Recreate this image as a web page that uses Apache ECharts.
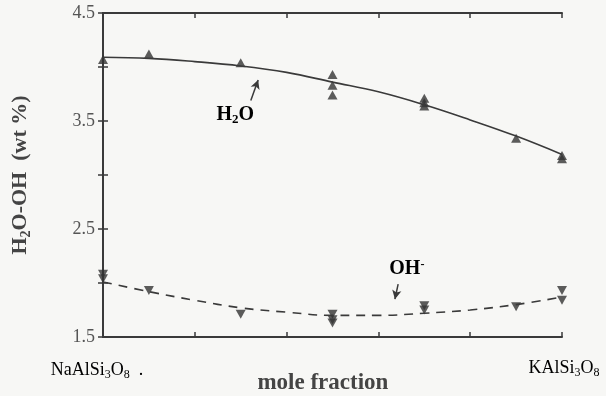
<!DOCTYPE html>
<html>
<head>
<meta charset="utf-8">
<script src="https://cdn.jsdelivr.net/npm/echarts@6/dist/echarts.min.js"></script>
<style>
  html, body { margin: 0; padding: 0; background: #f7f7f5; }
  #chart { width: 606px; height: 396px; }
</style>
</head>
<body>
<div id="chart"></div>
<script>
// Measured H2O and OH- contents along the NaAlSi3O8 - KAlSi3O8 join
const h2oX = [0, 0.1, 0.3, 0.5, 0.5, 0.5, 0.7, 0.7, 0.7, 0.9, 1.0, 1.0];
const h2oY = [4.07, 4.12, 4.04, 3.93, 3.83, 3.74, 3.71, 3.67, 3.64, 3.34, 3.18, 3.15];
const ohX = [0, 0, 0.1, 0.3, 0.5, 0.5, 0.5, 0.7, 0.7, 0.9, 1.0, 1.0];
const ohY = [2.08, 2.04, 1.93, 1.71, 1.71, 1.66, 1.63, 1.79, 1.75, 1.78, 1.93, 1.84];

// Fitted trend curves
const fitX = [0, 0.1, 0.2, 0.3, 0.4, 0.5, 0.6, 0.7, 0.8, 0.9, 1.0];
const h2oFit = [4.09, 4.08, 4.05, 4.01, 3.95, 3.86, 3.77, 3.65, 3.51, 3.36, 3.19];
const ohFit = [2.01, 1.92, 1.84, 1.77, 1.73, 1.70, 1.70, 1.72, 1.75, 1.80, 1.87];

const yTickLabels = ['1.5', '2.5', '3.5', '4.5'];

const ink = '#3a3a3a';
const textInk = '#444';
const serif = '"Liberation Serif", "DejaVu Serif", serif';

const pairs = (xs, ys) => xs.map((x, i) => [x, ys[i]]);

const chart = echarts.init(document.getElementById('chart'));

const subRich = {
  n: { fontFamily: serif, fontSize: 18, color: textInk },
  s: { fontFamily: serif, fontSize: 12, color: textInk, padding: [9, 0, 0, 0] },
  nb: { fontFamily: serif, fontSize: 20, fontWeight: 'bold', color: textInk },
  sb: { fontFamily: serif, fontSize: 13, fontWeight: 'bold', color: textInk, padding: [10, 0, 0, 0] },
  tb: { fontFamily: serif, fontSize: 22, fontWeight: 'bold', color: textInk },
  tsb: { fontFamily: serif, fontSize: 14, fontWeight: 'bold', color: textInk, padding: [11, 0, 0, 0] },
  sup: { fontFamily: serif, fontSize: 12, fontWeight: 'bold', color: textInk, padding: [0, 0, 8, 0] }
};

const tickStyle = { show: true, inside: true, length: 5, lineStyle: { color: ink, width: 1.5 } };
const lineAxis = { lineStyle: { color: ink, width: 2 } };

chart.setOption({
  backgroundColor: '#f7f7f5',
  animation: false,
  grid: { left: 103, top: 13, right: 44, bottom: 59 },
  xAxis: [
    {
      type: 'value', min: 0, max: 1, interval: 0.2,
      axisLine: lineAxis, axisTick: tickStyle,
      axisLabel: { show: false }, splitLine: { show: false }
    },
    {
      type: 'value', position: 'top', min: 0, max: 1, interval: 0.2,
      axisLine: lineAxis, axisTick: tickStyle,
      axisLabel: { show: false }, splitLine: { show: false }
    }
  ],
  yAxis: [
    {
      type: 'value', min: 1.5, max: 4.5, interval: 0.5,
      axisLine: { show: true, ...lineAxis }, axisTick: tickStyle,
      splitLine: { show: false },
      axisLabel: {
        margin: 8, fontFamily: serif, fontSize: 18, color: '#555',
        formatter: v => (yTickLabels.includes(v.toFixed(1)) ? v.toFixed(1) : '')
      },
      name: '{tb|H}{tsb|2}{tb|O-OH  (wt %)}',
      nameLocation: 'middle', nameRotate: 90, nameGap: 70,
      nameTextStyle: { rich: subRich }
    },
    {
      type: 'value', position: 'right', min: 1.5, max: 4.5, interval: 0.5,
      axisLine: { show: true, ...lineAxis }, axisTick: tickStyle,
      axisLabel: { show: false }, splitLine: { show: false }
    }
  ],
  series: [
    {
      name: 'H2O fit', type: 'line', smooth: 0.4, symbol: 'none',
      data: pairs(fitX, h2oFit),
      lineStyle: { color: ink, width: 1.6 },
      markLine: {
        silent: true, symbol: ['none', 'arrow'], symbolSize: [7, 9],
        label: { show: false },
        lineStyle: { color: ink, width: 1.5, type: 'solid' },
        data: [[{ coord: [0.322, 3.69] }, { coord: [0.338, 3.88] }]]
      }
    },
    {
      name: 'OH fit', type: 'line', smooth: 0.4, symbol: 'none',
      data: pairs(fitX, ohFit),
      lineStyle: { color: ink, width: 1.6, type: [9, 7] },
      markLine: {
        silent: true, symbol: ['none', 'arrow'], symbolSize: [7, 9],
        label: { show: false },
        lineStyle: { color: ink, width: 1.5, type: 'solid' },
        data: [[{ coord: [0.643, 1.99] }, { coord: [0.636, 1.85] }]]
      }
    },
    {
      name: 'H2O', type: 'scatter', symbol: 'triangle', symbolSize: [10, 9],
      data: pairs(h2oX, h2oY),
      itemStyle: { color: '#333' }
    },
    {
      name: 'OH', type: 'scatter', symbol: 'triangle', symbolRotate: 180, symbolSize: [10, 9],
      data: pairs(ohX, ohY),
      itemStyle: { color: '#333' }
    }
  ]
});

// Annotations anchored to the data coordinate system
function at(x, y) { return chart.convertToPixel({ xAxisIndex: 0, yAxisIndex: 0 }, [x, y]); }
const pH2O = at(0.288, 3.56);
const pOH = at(0.662, 2.13);
const pNa = at(0, 1.5);
const pK = at(1, 1.5);
const pMid = at(0.479, 1.5);

function richText(pos, text, align) {
  return {
    type: 'text', x: pos[0], y: pos[1],
    style: { text, rich: subRich, align: align || 'center', verticalAlign: 'middle' }
  };
}

chart.setOption({
  graphic: [
    richText(pH2O, '{nb|H}{sb|2}{nb|O}'),
    richText(pOH, '{nb|OH}{sup|-}'),
    richText([pNa[0] - 6, pNa[1] + 33], '{n|NaAlSi}{s|3}{n|O}{s|8}{n|  .}'),
    richText([pK[0] + 2, pK[1] + 31], '{n|KAlSi}{s|3}{n|O}{s|8}'),
    {
      type: 'text', x: pMid[0], y: pMid[1] + 46,
      style: {
        text: 'mole fraction', fontFamily: serif, fontSize: 23, fontWeight: 'bold',
        fill: textInk, align: 'center', verticalAlign: 'middle'
      }
    }
  ]
});
</script>
</body>
</html>
